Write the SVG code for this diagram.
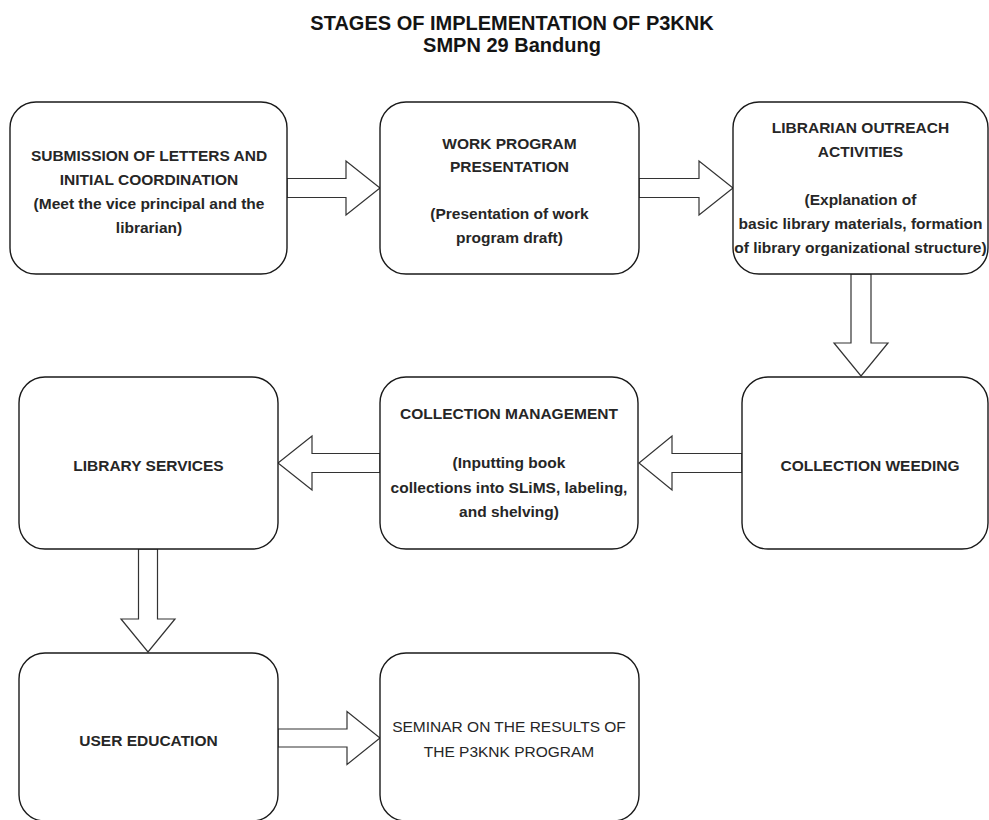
<svg xmlns="http://www.w3.org/2000/svg" width="989" height="820" viewBox="0 0 989 820">
<style>
  .box { fill: #ffffff; stroke: #1a1a1a; stroke-width: 1.4; }
  .arrow { fill: #ffffff; stroke: #333333; stroke-width: 1.2; stroke-linejoin: miter; }
  .t { font-family: "Liberation Sans", Arial, Helvetica, sans-serif; font-size: 15.5px; font-weight: bold; fill: #262626; text-anchor: middle; }
  .r { font-weight: normal; }
  .title { font-family: "Liberation Sans", Arial, Helvetica, sans-serif; font-size: 20px; font-weight: bold; fill: #141414; text-anchor: middle; }
</style>
<rect x="0" y="0" width="989" height="820" fill="#ffffff"/>

<g id="title">
  <text class="title" x="512" y="30">STAGES OF IMPLEMENTATION OF P3KNK</text>
  <text class="title" x="512" y="52">SMPN 29 Bandung</text>
</g>

<g id="connectors">
  <polygon class="arrow" points="287,178.5 346,178.5 346,161 380,188 346,215 346,197.5 287,197.5"/>
  <polygon class="arrow" points="639,178.5 699,178.5 699,161 733,188 699,215 699,197.5 639,197.5"/>
  <polygon class="arrow" points="851,274 851,343 834,343 861,376 888,343 871,343 871,274"/>
  <polygon class="arrow" points="742,453.5 672,453.5 672,436 639,463 672,490 672,472.5 742,472.5"/>
  <polygon class="arrow" points="380,453.5 312,453.5 312,436 278,463 312,490 312,472.5 380,472.5"/>
  <polygon class="arrow" points="138.5,549 138.5,619 121,619 148,652 175,619 157.5,619 157.5,549"/>
  <polygon class="arrow" points="278,729 347,729 347,711.5 380,738 347,764.5 347,747 278,747"/>
</g>

<g id="node-submission">
  <rect class="box" x="10" y="102" width="277" height="172" rx="26" ry="26"/>
  <text class="t" x="149" y="160.5">SUBMISSION OF LETTERS AND</text>
  <text class="t" x="149" y="184.5">INITIAL COORDINATION</text>
  <text class="t" x="149" y="208.5">(Meet the vice principal and the</text>
  <text class="t" x="149" y="232.5">librarian)</text>
</g>

<g id="node-work-program">
  <rect class="box" x="380" y="102" width="259" height="172" rx="26" ry="26"/>
  <text class="t" x="509.5" y="148.5">WORK PROGRAM</text>
  <text class="t" x="509.5" y="172">PRESENTATION</text>
  <text class="t" x="509.5" y="219">(Presentation of work</text>
  <text class="t" x="509.5" y="242.5">program draft)</text>
</g>

<g id="node-outreach">
  <rect class="box" x="733" y="102" width="255" height="172" rx="26" ry="26"/>
  <text class="t" x="860.5" y="132.5">LIBRARIAN OUTREACH</text>
  <text class="t" x="860.5" y="156.5">ACTIVITIES</text>
  <text class="t" x="860.5" y="204.5">(Explanation of</text>
  <text class="t" x="860.5" y="228.5">basic library materials, formation</text>
  <text class="t" x="860.5" y="252.5">of library organizational structure)</text>
</g>

<g id="node-weeding">
  <rect class="box" x="742" y="377" width="246" height="172" rx="26" ry="26"/>
  <text class="t" x="870" y="470.5">COLLECTION WEEDING</text>
</g>

<g id="node-collection-management">
  <rect class="box" x="380" y="377" width="258" height="172" rx="26" ry="26"/>
  <text class="t" x="509" y="419">COLLECTION MANAGEMENT</text>
  <text class="t" x="509" y="468">(Inputting book</text>
  <text class="t" x="509" y="492.5">collections into SLiMS, labeling,</text>
  <text class="t" x="509" y="517">and shelving)</text>
</g>

<g id="node-library-services">
  <rect class="box" x="19" y="377" width="259" height="172" rx="26" ry="26"/>
  <text class="t" x="148.5" y="470.5">LIBRARY SERVICES</text>
</g>

<g id="node-user-education">
  <rect class="box" x="19" y="653" width="259" height="168" rx="26" ry="26"/>
  <text class="t" x="148.5" y="745.5">USER EDUCATION</text>
</g>

<g id="node-seminar">
  <rect class="box" x="380" y="653" width="259" height="168" rx="26" ry="26"/>
  <text class="t r" x="509" y="731.5">SEMINAR ON THE RESULTS OF</text>
  <text class="t r" x="509" y="756.5">THE P3KNK PROGRAM</text>
</g>
</svg>
